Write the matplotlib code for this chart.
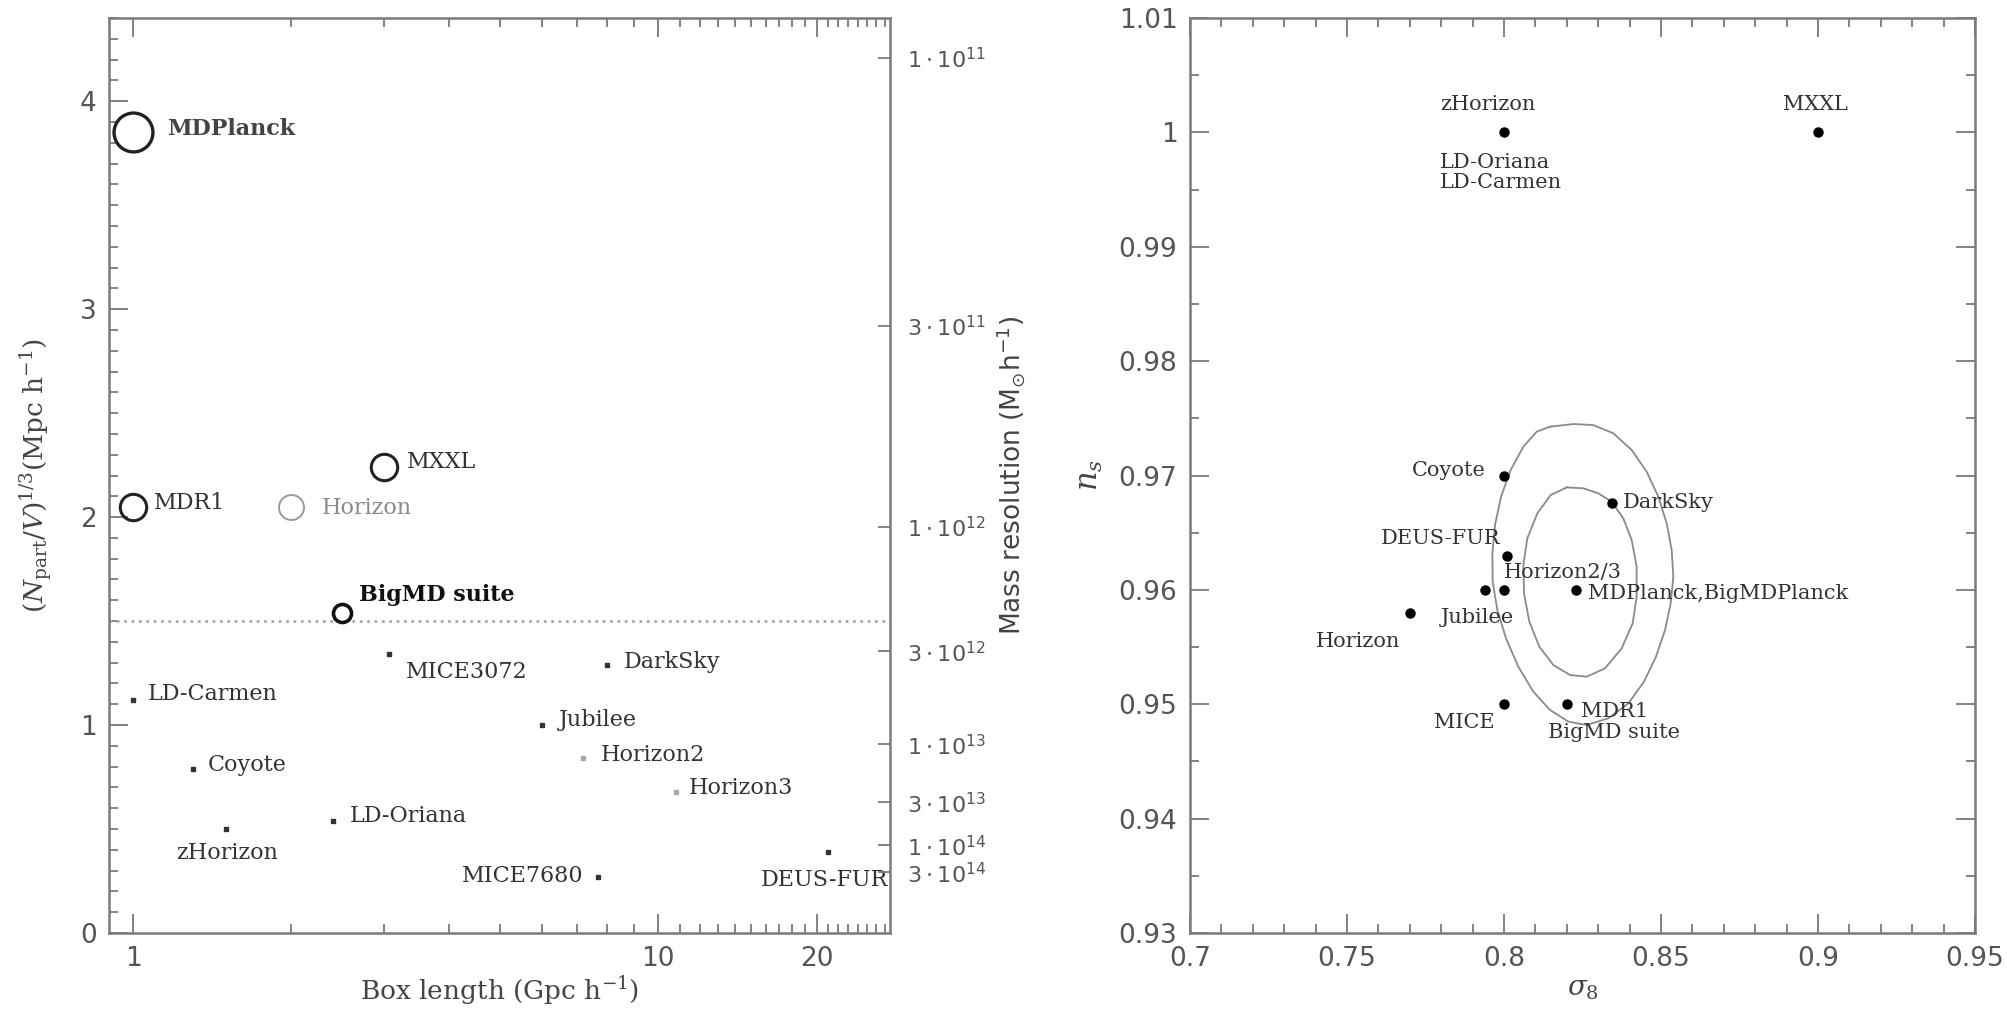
import matplotlib
matplotlib.use("Agg")
import matplotlib.pyplot as plt
from matplotlib.ticker import FixedLocator, MultipleLocator, FuncFormatter, NullFormatter

# ---------------- left panel: box size vs particle density ----------------
ring_names = ["MDPlanck", "MDR1", "Horizon", "MXXL", "BigMD suite"]
ring_box = [1.0, 1.0, 2.0, 3.0, 2.5]                 # Gpc/h
ring_density = [3.85, 2.05, 2.05, 2.24, 1.54]        # (N/V)^(1/3)

dot_names = ["MICE3072", "DarkSky", "LD-Carmen", "Jubilee", "Horizon2",
             "Horizon3", "Coyote", "LD-Oriana", "zHorizon", "MICE7680",
             "DEUS-FUR"]
dot_box = [3.072, 8.0, 1.0, 6.0, 7.2, 10.815, 1.3, 2.4, 1.5, 7.68, 21.0]
dot_density = [1.34, 1.29, 1.12, 1.0, 0.84, 0.68, 0.79, 0.54, 0.50, 0.27, 0.39]

threshold_density = 1.5

mass_ticks = [1e11, 3e11, 1e12, 3e12, 1e13, 3e13, 1e14, 3e14]
mass_labels = [r"$1\cdot10^{11}$", r"$3\cdot10^{11}$", r"$1\cdot10^{12}$",
               r"$3\cdot10^{12}$", r"$1\cdot10^{13}$", r"$3\cdot10^{13}$",
               r"$1\cdot10^{14}$", r"$3\cdot10^{14}$"]
mass_constant = 7.46e12   # m = mass_constant / (N/V)

# ---------------- right panel: cosmological parameters ----------------
cosmo_sigma8 = [0.80, 0.90, 0.80, 0.8344, 0.801, 0.794, 0.80, 0.8228, 0.77, 0.80, 0.82]
cosmo_ns = [1.00, 1.00, 0.97, 0.9676, 0.963, 0.96, 0.96, 0.96, 0.958, 0.95, 0.95]

cosmo_labels = ["zHorizon", "LD-Oriana", "LD-Carmen", "MXXL", "Coyote",
                "DarkSky", "DEUS-FUR", "Horizon2/3", "Jubilee",
                "MDPlanck,BigMDPlanck", "Horizon", "MICE", "MDR1",
                "BigMD suite"]
cosmo_label_point = [0, 0, 0, 1, 2, 3, 4, 5, 6, 7, 8, 9, 10, 10]

# Planck confidence contours (sigma8, n_s)
outer_sigma8 = [0.81465, 0.82208, 0.82845, 0.83482, 0.84066, 0.84544, 0.84915,
                0.85181, 0.85340, 0.85393, 0.85308, 0.85128, 0.84841, 0.84459,
                0.83960, 0.83323, 0.82633, 0.82049, 0.81465, 0.80934, 0.80457,
                0.80064, 0.79788, 0.79639, 0.79629, 0.79714, 0.79905, 0.80213,
                0.80616, 0.81041]
outer_ns = [0.97427, 0.97450, 0.97441, 0.97369, 0.97223, 0.97033, 0.96815,
            0.96582, 0.96349, 0.96115, 0.95882, 0.95649, 0.95416, 0.95197,
            0.95008, 0.94877, 0.94818, 0.94848, 0.94950, 0.95110, 0.95328,
            0.95576, 0.95824, 0.96072, 0.96319, 0.96567, 0.96815, 0.97048,
            0.97252, 0.97383]
inner_sigma8 = [0.81996, 0.82527, 0.83005, 0.83429, 0.83801, 0.84066, 0.84225,
                0.84225, 0.84098, 0.83748, 0.83217, 0.82633, 0.82102, 0.81571,
                0.81126, 0.80807, 0.80637, 0.80616, 0.80743, 0.81062, 0.81486]
inner_ns = [0.96896, 0.96888, 0.96844, 0.96771, 0.96625, 0.96436, 0.96203,
            0.95940, 0.95707, 0.95489, 0.95314, 0.95241, 0.95256, 0.95343,
            0.95503, 0.95722, 0.95970, 0.96217, 0.96451, 0.96669, 0.96829]

# ---------------- styling ----------------
SERIF = "DejaVu Serif"
SANS = "DejaVu Sans"
SPINE = "#7a7a7a"
TICKLAB = "#555555"
LABEL = "#333333"

plt.rcParams["mathtext.fontset"] = "dejavuserif"

fig = plt.figure(figsize=(20.07, 10.18), dpi=100)
W, H = 2007.0, 1018.0
axL = fig.add_axes([109 / W, 85 / H, 781 / W, 915 / H])
axR = fig.add_axes([1190 / W, 85 / H, 785 / W, 915 / H])


def style_axes(ax):
    for s in ax.spines.values():
        s.set_color(SPINE)
        s.set_linewidth(1.8)
    ax.tick_params(which="both", direction="in", color=SPINE, width=1.3,
                   labelcolor=TICKLAB, labelsize=19, pad=9)
    ax.tick_params(which="major", length=14)
    ax.tick_params(which="minor", length=6.5)
    for lab in ax.get_xticklabels() + ax.get_yticklabels():
        lab.set_family(SANS)


# ---- left panel ----
axL.set_xscale("log")
axL.set_xlim(0.9, 27.6)
axL.set_ylim(0, 4.4)
axL.xaxis.set_major_locator(FixedLocator([1, 10, 20]))
axL.xaxis.set_major_formatter(FuncFormatter(lambda v, p: f"{v:g}"))
axL.xaxis.set_minor_locator(FixedLocator([2, 3, 4, 5, 6, 7, 8, 9] +
                                         list(range(11, 20)) + list(range(21, 28))))
axL.xaxis.set_minor_formatter(NullFormatter())
axL.yaxis.set_major_locator(MultipleLocator(1))
axL.yaxis.set_minor_locator(MultipleLocator(0.1))
axL.tick_params(which="both", top=True, right=False)
style_axes(axL)

axL.axhline(threshold_density, color="#aaaaaa", ls=":", lw=2)

ring_style = {
    "MDPlanck":    dict(ms=28, mew=2.4, color="#222222"),
    "MDR1":        dict(ms=19, mew=2.2, color="#222222"),
    "Horizon":     dict(ms=18, mew=1.4, color="#9a9a9a"),
    "MXXL":        dict(ms=19, mew=2.2, color="#222222"),
    "BigMD suite": dict(ms=13, mew=2.6, color="#111111"),
}
ring_text = {
    "MDPlanck":    dict(off=(34, 3), weight="semibold", color="#444444"),
    "MDR1":        dict(off=(21, 4), weight="normal", color=LABEL),
    "Horizon":     dict(off=(31, -1), weight="normal", color="#8a8a8a"),
    "MXXL":        dict(off=(23, 5), weight="normal", color=LABEL),
    "BigMD suite": dict(off=(17, 18), weight="bold", color="#111111"),
}
for name, x, y in zip(ring_names, ring_box, ring_density):
    st = ring_style[name]
    axL.plot(x, y, "o", ms=st["ms"], mfc="none", mec=st["color"], mew=st["mew"],
             zorder=4)
    tx = ring_text[name]
    axL.annotate(name, (x, y), xytext=tx["off"], textcoords="offset pixels",
                 ha="left", va="center", fontsize=16, family=SERIF,
                 weight=tx["weight"], color=tx["color"])

dot_text = {
    "MICE3072":  ((17, -18), "left"),
    "DarkSky":   ((16, 3), "left"),
    "LD-Carmen": ((15, 6), "left"),
    "Jubilee":   ((17, 5), "left"),
    "Horizon2":  ((17, 3), "left"),
    "Horizon3":  ((13, 4), "left"),
    "Coyote":    ((15, 4), "left"),
    "LD-Oriana": ((17, 5), "left"),
    "zHorizon":  ((2, -24), "center"),
    "MICE7680":  ((-15, 1), "right"),
    "DEUS-FUR":  ((-3, -28), "center"),
}
faint = {"Horizon2", "Horizon3"}
for name, x, y in zip(dot_names, dot_box, dot_density):
    c = "#aaaaaa" if name in faint else "#333333"
    axL.plot(x, y, "s", ms=3, color=c, mec=c, zorder=4)
    off, ha = dot_text[name]
    axL.annotate(name, (x, y), xytext=off, textcoords="offset pixels",
                 ha=ha, va="center", fontsize=16, family=SERIF, color=LABEL)

axL.set_xlabel("Box length (Gpc h$^{-1}$)", family=SERIF, fontsize=19,
               color="#444444", labelpad=2)
axL.set_ylabel(r"$(N_{\rm part}/V)^{1/3}$(Mpc h$^{-1}$)", family=SERIF,
               fontsize=19, color="#444444", labelpad=18)

# mass resolution axis on the right
axM = axL.twinx()
axM.set_ylim(axL.get_ylim())
axM.yaxis.set_major_locator(FixedLocator([(mass_constant / m) ** (1 / 3)
                                          for m in mass_ticks]))
axM.set_yticklabels(mass_labels, math_fontfamily="dejavusans")
axM.tick_params(which="major", direction="in", length=9, width=1.3,
                color=SPINE, labelcolor=TICKLAB, labelsize=16, pad=12)
for s in axM.spines.values():
    s.set_visible(False)
axM.set_ylabel(r"Mass resolution (M$_{\odot}$h$^{-1}$)", family=SANS,
               fontsize=19, color="#444444", labelpad=6,
               math_fontfamily="dejavusans")

# ---- right panel ----
axR.set_xlim(0.7, 0.95)
axR.set_ylim(0.93, 1.01)
axR.xaxis.set_major_locator(MultipleLocator(0.05))
axR.xaxis.set_minor_locator(MultipleLocator(0.01))
axR.yaxis.set_major_locator(MultipleLocator(0.01))
axR.yaxis.set_minor_locator(MultipleLocator(0.005))
axR.xaxis.set_major_formatter(FuncFormatter(lambda v, p: f"{round(v, 3):g}"))
axR.yaxis.set_major_formatter(FuncFormatter(lambda v, p: f"{round(v, 3):g}"))
axR.tick_params(which="both", top=True, right=True)
style_axes(axR)

axR.plot(outer_sigma8 + outer_sigma8[:1], outer_ns + outer_ns[:1],
         color="#8a8a8a", lw=1.3)
axR.plot(inner_sigma8 + inner_sigma8[:1], inner_ns + inner_ns[:1],
         color="#8a8a8a", lw=1.3)
axR.plot(cosmo_sigma8, cosmo_ns, "o", ms=6.5, color="black", zorder=4)

cosmo_offsets = {
    "zHorizon":             ((-64, 28), "left"),
    "LD-Oriana":            ((-64, -30), "left"),
    "LD-Carmen":            ((-64, -50), "left"),
    "MXXL":                 ((-3, 28), "center"),
    "Coyote":               ((-18, 5), "right"),
    "DarkSky":              ((11, 0), "left"),
    "DEUS-FUR":             ((-7, 17), "right"),
    "Horizon2/3":           ((19, 17), "left"),
    "Jubilee":              ((-63, -28), "left"),
    "MDPlanck,BigMDPlanck": ((12, -4), "left"),
    "Horizon":              ((-94, -29), "left"),
    "MICE":                 ((-9, -18), "right"),
    "MDR1":                 ((14, -7), "left"),
    "BigMD suite":          ((-19, -28), "left"),
}
for name, idx in zip(cosmo_labels, cosmo_label_point):
    off, ha = cosmo_offsets[name]
    axR.annotate(name, (cosmo_sigma8[idx], cosmo_ns[idx]), xytext=off,
                 textcoords="offset pixels", ha=ha, va="center",
                 fontsize=15, family=SERIF, color=LABEL)

axR.set_xlabel(r"$\sigma_8$", fontsize=20, color="#444444", labelpad=2)
axR.set_ylabel(r"$n_s$", fontsize=22, color="#444444", labelpad=10)

fig.savefig("out.png", dpi=100, facecolor="white")
